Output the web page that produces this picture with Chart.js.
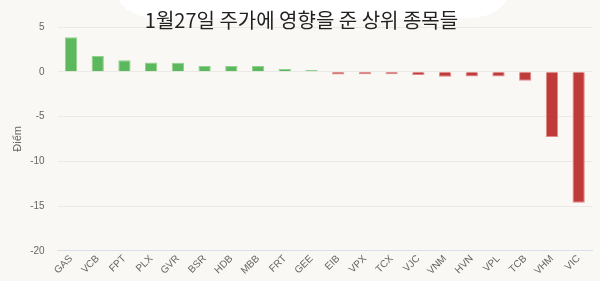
<!DOCTYPE html>
<html>
<head>
<meta charset="utf-8">
<script src="https://cdn.jsdelivr.net/npm/chart.js@4.4.1/dist/chart.umd.min.js"></script>
<style>
  html, body { margin: 0; padding: 0; background: #faf8f4; }
  #wrap { position: relative; width: 600px; height: 281px; overflow: hidden; background: #faf8f4; }
  #blob { position: absolute; left: 115px; top: -20px; width: 395px; height: 38px; background: #ffffff; border-radius: 0 0 40px 40px / 0 0 30px 30px; }
  canvas { position: absolute; left: 0; top: 0; }
</style>
</head>
<body>
<div id="wrap">
  <div id="blob"></div>
  <canvas id="c" width="600" height="281"></canvas>
</div>
<script>
const categories = ["GAS","VCB","FPT","PLX","GVR","BSR","HDB","MBB","FRT","GEE","EIB","VPX","TCX","VJC","VNM","HVN","VPL","TCB","VHM","VIC"];
const values = [3.86, 1.77, 1.29, 1.03, 1.0, 0.65, 0.63, 0.63, 0.31, 0.2, -0.3, -0.28, -0.27, -0.35, -0.55, -0.52, -0.52, -1.0, -7.29, -14.63];
const yTicks = [5, 0, -5, -10, -15, -20];
const titleText = "1월27일 주가에 영향을 준 상위 종목들";
const yAxisTitle = "Điểm";

const fill = values.map(v => v >= 0 ? "#5cb85c" : "#c13a3a");
const edge = values.map(v => v >= 0 ? "#8fd18f" : "#e08a8a");

new Chart(document.getElementById("c"), {
  type: "bar",
  data: {
    labels: categories,
    datasets: [{
      data: values,
      backgroundColor: fill,
      borderColor: edge,
      borderWidth: 1,
      barPercentage: 0.46,
      categoryPercentage: 1.0
    }]
  },
  options: {
    responsive: false,
    animation: false,
    devicePixelRatio: 1,
    layout: { padding: { left: 11, right: 8, top: 0, bottom: 2 } },
    plugins: {
      legend: { display: false },
      tooltip: { enabled: false },
      title: {
        display: true,
        text: titleText,
        color: "#222",
        font: { family: "'Noto Sans CJK KR', sans-serif", size: 20, weight: "normal" },
        padding: { top: 8, bottom: -5 }
      }
    },
    scales: {
      y: {
        min: Math.min(...yTicks),
        max: Math.max(...yTicks),
        afterBuildTicks: (axis) => { axis.ticks = yTicks.map(v => ({ value: v })); },
        ticks: { color: "#666", font: { family: "'Liberation Sans', Arial, sans-serif", size: 10 }, padding: 13 },
        grid: { color: "#ebe9e5", drawTicks: false },
        border: { display: false },
        title: { display: true, text: yAxisTitle, color: "#666", font: { family: "'Liberation Sans', Arial, sans-serif", size: 11 }, padding: { top: 0, bottom: -7 } }
      },
      x: {
        ticks: { color: "#666", font: { family: "'Liberation Sans', Arial, sans-serif", size: 10 }, minRotation: 45, maxRotation: 45, padding: 2 },
        grid: { display: false, drawTicks: false },
        border: { display: true, color: "#d8dfea" }
      }
    }
  }
});
</script>
</body>
</html>
